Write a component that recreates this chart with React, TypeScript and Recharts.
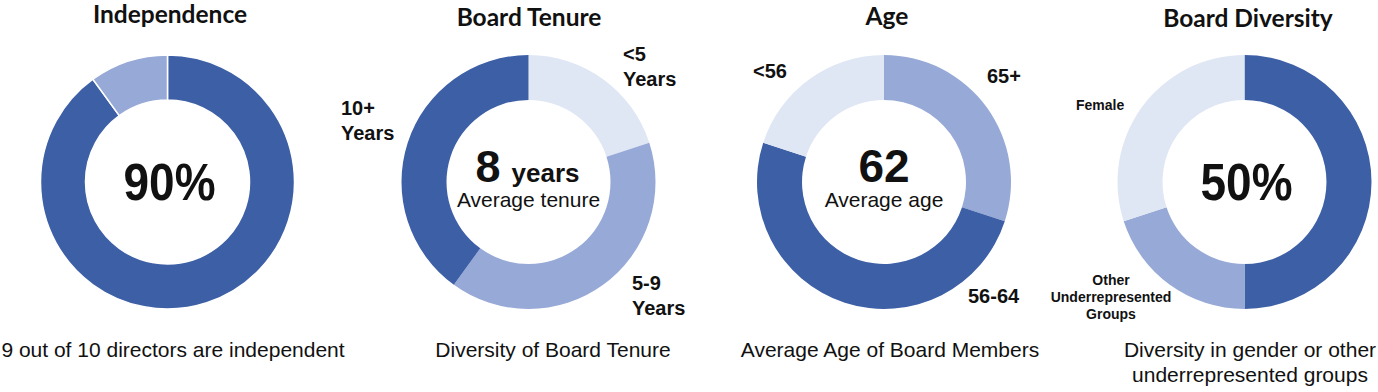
import React from "react";
import { PieChart, Pie, Cell } from "recharts";

// ---- data ----
const titles = ["Independence", "Board Tenure", "Age", "Board Diversity"];

const independenceCategories = ["Independent", "Not independent"];
const independenceValues = [9, 1];

const tenureCategories = ["<5 Years", "5-9 Years", "10+ Years"];
const tenureValues = [2, 4, 4];

const ageCategories = ["65+", "56-64", "<56"];
const ageValues = [3, 5, 2];

const diversityCategories = ["Other directors", "Other Underrepresented Groups", "Female"];
const diversityValues = [5, 2, 3];

const centerValues = ["90%", "8", "62", "50%"];
const centerCaptions = ["", "Average tenure", "Average age", ""];
const subtitles = [
  ["9 out of 10 directors are independent"],
  ["Diversity of Board Tenure"],
  ["Average Age of Board Members"],
  ["Diversity in gender or other", "underrepresented groups"],
];

// ---- styling ----
const DARK = "#3d5fa6";
const MID = "#97a9d7";
const LIGHT = "#dfe6f4";
const INK = "#111";
const SANS = "'Liberation Sans', Arial, sans-serif";
const TITLE_FONT = "Lato, 'Open Sans', sans-serif";

const W = 1378;
const H = 392;
const CY = 182;
const INNER = 82;
const OUTER = 127;

const toRows = (cats: string[], vals: number[]) => cats.map((name, i) => ({ name, value: vals[i] }));

const panels = [
  {
    cx: 167.5,
    rows: toRows(independenceCategories, independenceValues),
    colors: [DARK, MID],
    stroke: "#fff",
    labels: [] as ({ dx: number; dy: number; anchor: string; size: number; lh: number } | null)[],
    titleX: 170,
    titleY: 23,
    subX: 173,
  },
  {
    cx: 528.5,
    rows: toRows(tenureCategories, tenureValues),
    colors: [LIGHT, MID, DARK],
    stroke: "none",
    labels: [
      { dx: 94.5, dy: -121, anchor: "start", size: 20, lh: 25 },
      { dx: 103.5, dy: 108, anchor: "start", size: 20, lh: 25 },
      { dx: -187.5, dy: -67, anchor: "start", size: 20, lh: 25 },
    ],
    titleX: 529,
    titleY: 26,
    subX: 553,
  },
  {
    cx: 884,
    rows: toRows(ageCategories, ageValues),
    colors: [MID, DARK, LIGHT],
    stroke: "none",
    labels: [
      { dx: 103, dy: -99, anchor: "start", size: 20, lh: 25 },
      { dx: 84, dy: 121, anchor: "start", size: 20, lh: 25 },
      { dx: -131, dy: -104, anchor: "start", size: 20, lh: 25 },
    ],
    titleX: 887,
    titleY: 25,
    subX: 890,
  },
  {
    cx: 1244.5,
    rows: toRows(diversityCategories, diversityValues),
    colors: [DARK, MID, LIGHT],
    stroke: "none",
    labels: [
      null,
      { dx: -133.5, dy: 103, anchor: "middle", size: 14, lh: 17 },
      { dx: -168.5, dy: -72, anchor: "start", size: 14, lh: 17 },
    ],
    titleX: 1248,
    titleY: 27,
    subX: 1250,
  },
];

// slice labels break into lines differently per chart
function labelLines(panel: number, name: string): string[] {
  if (panel === 1) return name.split(" ");
  if (panel === 3 && name.startsWith("Other")) return name.split(" ");
  return [name];
}

export default function App() {
  return (
    <div style={{ position: "absolute", left: 0, top: 0, width: W, height: H, background: "#fff" }}>
      <PieChart width={W} height={H} margin={{ top: 0, right: 0, bottom: 0, left: 0 }}>
        {panels.map((p, i) => (
          <Pie
            key={`pie-${i}`}
            data={p.rows}
            dataKey="value"
            nameKey="name"
            cx={p.cx}
            cy={CY}
            innerRadius={INNER}
            outerRadius={OUTER}
            startAngle={90}
            endAngle={-270}
            stroke={p.stroke}
            strokeWidth={p.stroke === "none" ? 0 : 1.5}
            isAnimationActive={false}
          >
            {p.rows.map((r, j) => (
              <Cell key={`c-${i}-${j}`} fill={p.colors[j]} />
            ))}
          </Pie>
        ))}

        {panels.map((p, i) => (
          <g key={`txt-${i}`}>
            <text x={p.titleX} y={p.titleY} textAnchor="middle" fontFamily={TITLE_FONT} fontWeight={700} fontSize={24.5} fill={INK}>
              {titles[i]}
            </text>
            {subtitles[i].map((line, k) => (
              <text key={k} x={p.subX} y={357 + k * 25} textAnchor="middle" fontFamily={SANS} fontSize={21} fill={INK}>
                {line}
              </text>
            ))}
            {p.labels.map((l, j) =>
              l ? (
                <text key={j} x={p.cx + l.dx} y={CY + l.dy} textAnchor={l.anchor as any} fontFamily={SANS} fontWeight={700} fontSize={l.size} fill={INK}>
                  {labelLines(i, p.rows[j].name).map((t, k) => (
                    <tspan key={k} x={p.cx + l.dx} dy={k === 0 ? 0 : l.lh}>
                      {t}
                    </tspan>
                  ))}
                </text>
              ) : null
            )}
          </g>
        ))}

        {/* center figures */}
        <text x={panels[0].cx + 2} y={200} textAnchor="middle" fontFamily={SANS} fontWeight={700} fontSize={51} textLength={92} lengthAdjust="spacingAndGlyphs" fill={INK}>
          {centerValues[0]}
        </text>
        <text x={panels[1].cx - 53} y={182} fontFamily={SANS} fontWeight={700} fill={INK}>
          <tspan fontSize={45}>{centerValues[1]}</tspan>
          <tspan fontSize={26} dx={11}>years</tspan>
        </text>
        <text x={panels[1].cx} y={207} textAnchor="middle" fontFamily={SANS} fontSize={21} fill={INK}>
          {centerCaptions[1]}
        </text>
        <text x={panels[2].cx} y={182} textAnchor="middle" fontFamily={SANS} fontWeight={700} fontSize={46} fill={INK}>
          {centerValues[2]}
        </text>
        <text x={panels[2].cx} y={207} textAnchor="middle" fontFamily={SANS} fontSize={21} fill={INK}>
          {centerCaptions[2]}
        </text>
        <text x={panels[3].cx + 2} y={200} textAnchor="middle" fontFamily={SANS} fontWeight={700} fontSize={51} textLength={92} lengthAdjust="spacingAndGlyphs" fill={INK}>
          {centerValues[3]}
        </text>
      </PieChart>
    </div>
  );
}
